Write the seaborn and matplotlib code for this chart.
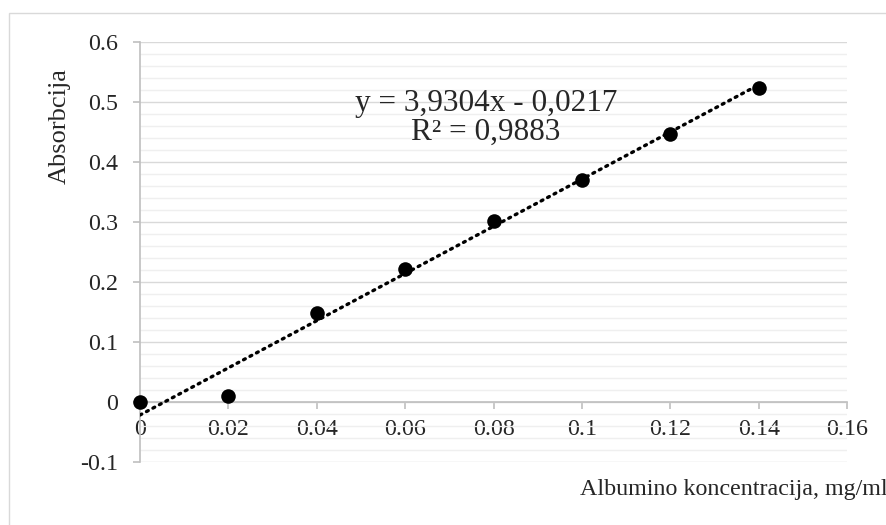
import matplotlib
matplotlib.use("Agg")
import matplotlib.pyplot as plt
import seaborn as sns
import numpy as np
import pandas as pd
from matplotlib.patches import Rectangle

# data
concentration = [0.0, 0.02, 0.04, 0.06, 0.08, 0.10, 0.12, 0.14]
absorbance = [0.0, 0.01, 0.148, 0.222, 0.302, 0.370, 0.447, 0.523]
trend_slope = 3.9304
trend_intercept = -0.0217
r_squared = 0.9883
x_ticks = [0, 0.02, 0.04, 0.06, 0.08, 0.1, 0.12, 0.14, 0.16]
x_tick_labels = ["0", "0.02", "0.04", "0.06", "0.08", "0.1", "0.12", "0.14", "0.16"]
y_ticks = [-0.1, 0, 0.1, 0.2, 0.3, 0.4, 0.5, 0.6]
y_tick_labels = ["-0.1", "0", "0.1", "0.2", "0.3", "0.4", "0.5", "0.6"]
x_label = "Albumino koncentracija, mg/ml"
y_label = "Absorbcija"

sns.set_style("white")
plt.rcParams["font.family"] = ["Liberation Serif", "DejaVu Serif"]

W, H = 886, 525
fig = plt.figure(figsize=(W / 100, H / 100), dpi=100)
fig.patch.set_facecolor("white")

# outer chart border
fig.patches.append(Rectangle((9 / W, -0.1), 1.2, 1.1 - 13 / H, transform=fig.transFigure,
                             fill=False, edgecolor="#d9d9d9", linewidth=1.0))

ax = fig.add_axes([140 / W, 1 - 462 / H, (847 - 140) / W, (462 - 42) / H])
ax.set_facecolor("white")
ax.set_xlim(0, 0.16)
ax.set_ylim(-0.1, 0.6)

# gridlines
ax.set_yticks(y_ticks)
ax.set_yticks(np.round(np.arange(-0.1, 0.6001, 0.02), 3), minor=True)
ax.yaxis.grid(True, which="major", color="#d9d9d9", linewidth=1.0)
ax.yaxis.grid(True, which="minor", color="#efefef", linewidth=1.0)
ax.xaxis.grid(False)
ax.set_axisbelow(True)

# trendline
trend_x = [concentration[0], concentration[-1]]
trend_y = [trend_slope * v + trend_intercept for v in trend_x]
sns.lineplot(x=trend_x, y=trend_y, ax=ax, color="black", linewidth=2.4,
             linestyle=(0, (0.6, 1.6)), dash_capstyle="round", zorder=3)

# points
df = pd.DataFrame({"x": concentration, "y": absorbance})
sns.scatterplot(data=df, x="x", y="y", ax=ax, color="black", s=110,
                edgecolor="black", linewidth=0, zorder=4, clip_on=False)

# spines
for s in ["top", "right"]:
    ax.spines[s].set_visible(False)
ax.spines["bottom"].set_position(("data", 0))
ax.spines["bottom"].set_color("#bfbfbf")
ax.spines["left"].set_color("#bfbfbf")
ax.spines["bottom"].set_linewidth(1.2)
ax.spines["left"].set_linewidth(1.2)

ax.set_xticks(x_ticks)
ax.set_xticklabels(x_tick_labels)
ax.set_yticklabels(y_tick_labels)
ax.tick_params(axis="x", which="major", direction="out", length=5, width=1.2,
               color="#bfbfbf", labelsize=17.3, pad=7.5, bottom=True)
ax.tick_params(axis="y", which="major", direction="out", length=5, width=1.2,
               color="#bfbfbf", labelsize=17.3, pad=11, left=True)
ax.tick_params(axis="y", which="minor", length=0)
ax.set_xlabel("")
ax.set_ylabel("")

# axis titles
fig.text(60 / W, 1 - 126 / H, y_label, rotation=90, ha="center", va="center", fontsize=19)
fig.text(580 / W, 1 - 489 / H, x_label, ha="left", va="center", fontsize=17.3)

# equation
eq = f"y = {str(trend_slope).replace('.', ',')}x - {str(abs(trend_intercept)).replace('.', ',')}\nR² = {str(r_squared).replace('.', ',')}"
fig.text(486 / W, 1 - 118 / H, eq, ha="center", va="center", fontsize=22.5,
         linespacing=1.0, multialignment="center")

fig.savefig("out.png", dpi=100, facecolor="white")
